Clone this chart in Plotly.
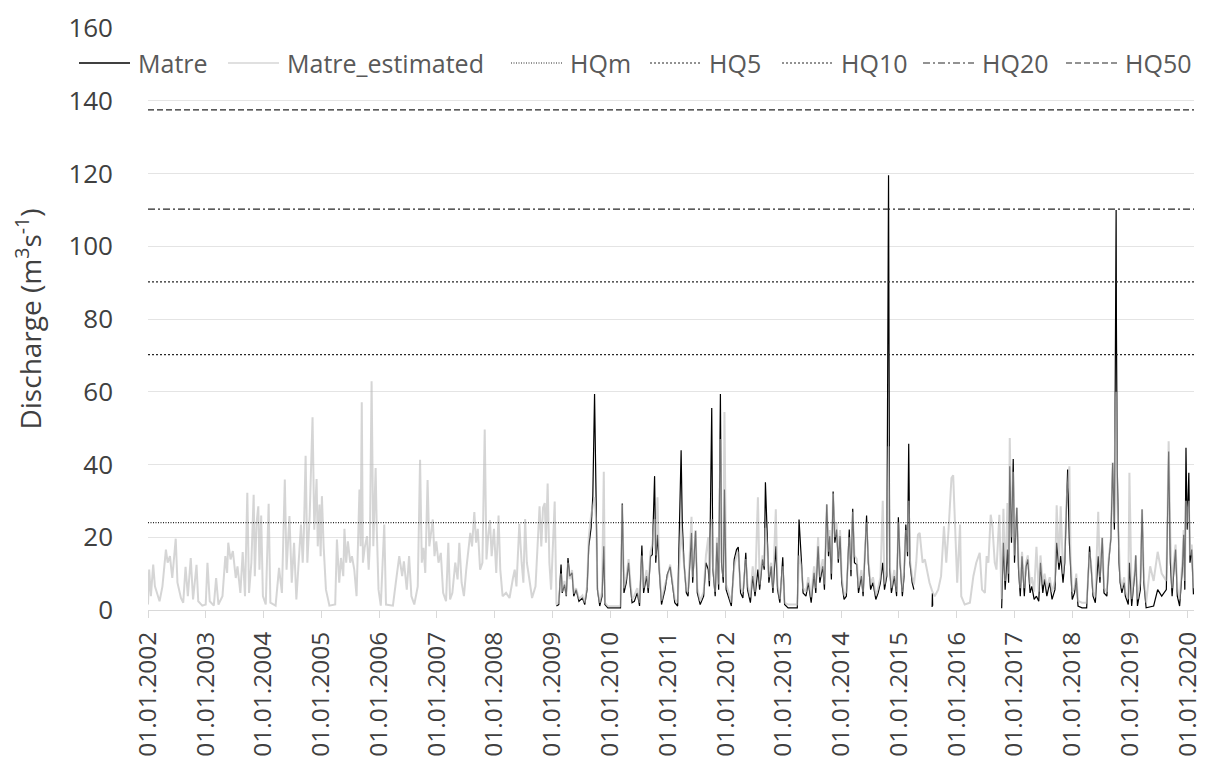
import pandas as pd
import plotly.graph_objects as go

# ---------------- data (decimal years, discharge m3/s) ----------------
est_pre_t = [
    2002.00, 2002.02, 2002.05, 2002.09, 2002.12, 2002.16, 2002.20, 2002.25, 2002.31, 2002.34, 2002.38, 2002.42,
    2002.48, 2002.51, 2002.57, 2002.61, 2002.65, 2002.69, 2002.74, 2002.78, 2002.84, 2002.87, 2002.94,
    2003.00, 2003.03, 2003.07, 2003.14, 2003.18, 2003.22, 2003.29, 2003.34, 2003.37, 2003.39, 2003.43, 2003.47,
    2003.52, 2003.55, 2003.60, 2003.64, 2003.68, 2003.72, 2003.75, 2003.79, 2003.83, 2003.85, 2003.88, 2003.91,
    2003.93, 2003.96, 2003.99,
    2004.04, 2004.09, 2004.12, 2004.21, 2004.27, 2004.32, 2004.37, 2004.40, 2004.45, 2004.49, 2004.53, 2004.57,
    2004.65, 2004.68, 2004.70, 2004.73, 2004.76, 2004.80, 2004.83, 2004.85, 2004.88, 2004.92, 2004.94, 2004.97,
    2004.99,
    2005.01, 2005.04, 2005.08, 2005.14, 2005.24, 2005.27, 2005.31, 2005.34, 2005.38, 2005.40, 2005.43, 2005.46,
    2005.50, 2005.53, 2005.57, 2005.61, 2005.66, 2005.68, 2005.70, 2005.72, 2005.75, 2005.79, 2005.82, 2005.84,
    2005.87, 2005.90, 2005.94, 2005.96, 2005.99,
    2006.03, 2006.09, 2006.12, 2006.24, 2006.29, 2006.35, 2006.40, 2006.43, 2006.48, 2006.52, 2006.56, 2006.61,
    2006.67, 2006.71, 2006.74, 2006.77, 2006.80, 2006.84, 2006.87, 2006.90, 2006.93, 2006.96, 2006.99,
    2007.03, 2007.07, 2007.11, 2007.16, 2007.20, 2007.23, 2007.27, 2007.32, 2007.36, 2007.39, 2007.43, 2007.47,
    2007.51, 2007.54, 2007.58, 2007.61, 2007.65, 2007.68, 2007.71, 2007.75, 2007.79, 2007.83, 2007.86, 2007.89,
    2007.92, 2007.95, 2007.99,
    2008.03, 2008.07, 2008.10, 2008.14, 2008.20, 2008.26, 2008.32, 2008.35, 2008.38, 2008.43, 2008.47, 2008.50,
    2008.53, 2008.56, 2008.60, 2008.65, 2008.71, 2008.75, 2008.78, 2008.81, 2008.84, 2008.87, 2008.89, 2008.92,
    2008.95, 2008.98, 2009.04,
]
est_pre_q = [
    1.5, 11.1, 3.8, 12.5, 6.5, 4.7, 2.4, 6.5, 16.6, 13.0, 14.8, 8.8,
    19.6, 7.5, 3.3, 2.0, 11.9, 3.8, 14.3, 2.9, 12.4, 2.4, 1.2,
    1.5, 13.0, 2.4, 1.2, 8.8, 1.5, 3.8, 14.8, 10.2, 18.5, 13.9, 16.2,
    8.8, 12.0, 4.7, 15.9, 3.8, 32.2, 4.7, 13.0, 31.7, 9.3, 23.9, 28.5,
    11.1, 26.0, 3.8,
    1.5, 29.2, 2.0, 1.2, 11.6, 4.7, 35.9, 11.1, 25.8, 7.5, 18.5, 2.9,
    23.5, 13.0, 21.2, 42.4, 13.0, 25.8, 45.0, 53.0, 22.1, 36.0, 17.5, 29.0,
    14.8,
    31.3, 17.5, 5.6, 1.2, 1.5, 19.4, 7.5, 14.3, 9.3, 22.3, 13.0, 18.9,
    13.0, 14.8, 11.1, 3.8, 33.1, 17.5, 57.1, 13.0, 17.1, 20.3, 11.1, 18.0,
    62.9, 17.5, 39.0, 22.1, 5.6,
    1.2, 23.5, 1.5, 1.2, 7.5, 14.8, 9.3, 13.4, 5.6, 14.8, 3.8, 1.5,
    6.5, 41.3, 13.0, 17.1, 10.2, 35.7, 17.5, 22.1, 24.9, 14.8, 18.9,
    13.0, 15.7, 4.7, 2.4, 18.5, 2.9, 4.7, 13.0, 8.4, 18.5, 7.5, 3.8,
    11.1, 14.8, 21.2, 17.5, 26.9, 18.5, 22.3, 11.1, 13.0, 49.6, 13.9, 20.3,
    24.7, 14.8, 22.3,
    10.2, 26.0, 11.1, 3.8, 4.7, 3.3, 8.8, 11.1, 6.5, 23.7, 13.0, 7.5,
    25.0, 13.0, 8.8, 3.3, 6.5, 18.5, 28.5, 17.5, 28.1, 29.4, 18.5, 34.8,
    13.0, 5.6, 29.8,
]

# observed period 1 (Feb 2009 - Apr 2015): time, observed, estimated
seg1_t = [
    2009.07, 2009.11, 2009.15, 2009.17, 2009.21, 2009.24, 2009.27, 2009.30, 2009.34, 2009.37, 2009.41, 2009.46, 2009.52,
    2009.56, 2009.60, 2009.63, 2009.67, 2009.70, 2009.73, 2009.76, 2009.78, 2009.82, 2009.86, 2009.89, 2009.91, 2009.96,
    2010.18, 2010.21, 2010.24, 2010.28, 2010.32, 2010.35, 2010.38, 2010.42, 2010.47, 2010.51, 2010.55,
    2010.58, 2010.63, 2010.66, 2010.70, 2010.73, 2010.77, 2010.79, 2010.82, 2010.85, 2010.89, 2010.95,
    2010.99, 2011.04, 2011.08, 2011.12, 2011.17, 2011.23, 2011.25, 2011.28, 2011.32, 2011.35, 2011.41, 2011.43, 2011.48, 2011.51,
    2011.56, 2011.62, 2011.66, 2011.70, 2011.72, 2011.76, 2011.78, 2011.82, 2011.85, 2011.88, 2011.91, 2011.93, 2011.96, 2011.98,
    2012.01, 2012.05, 2012.10, 2012.15, 2012.19, 2012.22, 2012.26, 2012.30, 2012.35, 2012.38, 2012.43, 2012.47, 2012.51,
    2012.56, 2012.59, 2012.64, 2012.67, 2012.69, 2012.72, 2012.75, 2012.79, 2012.82, 2012.87, 2012.90, 2012.94, 2012.99,
    2013.02, 2013.08, 2013.24, 2013.27, 2013.31, 2013.34, 2013.39, 2013.43, 2013.48, 2013.53, 2013.56, 2013.60,
    2013.63, 2013.68, 2013.71, 2013.75, 2013.78, 2013.80, 2013.83, 2013.86, 2013.89, 2013.92, 2013.95, 2013.98,
    2014.01, 2014.05, 2014.09, 2014.14, 2014.17, 2014.20, 2014.23, 2014.27, 2014.30, 2014.35, 2014.38, 2014.41, 2014.44, 2014.47,
    2014.51, 2014.55, 2014.60, 2014.64, 2014.68, 2014.72, 2014.75, 2014.79, 2014.82, 2014.84, 2014.87, 2014.92, 2014.96, 2014.99,
    2015.02, 2015.06, 2015.09, 2015.12, 2015.15, 2015.17, 2015.19, 2015.23, 2015.26,
]
seg1_obs = [
    1.1, 1.5, 12.5, 4.7, 7.0, 3.8, 14.3, 9.3, 10.2, 3.8, 5.6, 2.4, 3.3,
    1.5, 5.6, 17.5, 22.6, 31.3, 59.4, 31.3, 5.6, 1.1, 3.8, 17.5, 1.5, 0.6,
    0.6, 29.3, 4.7, 7.5, 13.0, 6.5, 2.0, 2.4, 4.7, 1.1, 17.7,
    4.7, 9.3, 4.7, 14.8, 15.2, 36.8, 13.0, 20.7, 11.1, 1.5, 5.6,
    9.8, 11.9, 7.5, 2.0, 1.1, 43.9, 23.9, 13.0, 4.7, 3.8, 21.2, 7.5, 21.7, 4.7,
    1.5, 3.8, 13.0, 11.1, 6.5, 55.5, 11.1, 3.8, 18.5, 5.6, 59.4, 13.0, 7.5, 33.1,
    5.6, 3.8, 1.1, 13.9, 16.6, 17.3, 4.7, 3.3, 15.7, 5.6, 2.0, 9.3, 3.8,
    11.1, 5.6, 13.9, 11.1, 35.1, 22.1, 7.5, 12.0, 4.7, 17.5, 5.6, 2.0, 14.5,
    1.5, 0.6, 0.6, 24.9, 13.9, 4.7, 3.8, 7.5, 2.0, 10.2, 4.7, 17.5,
    7.5, 12.0, 5.6, 29.0, 14.8, 20.3, 8.4, 32.6, 18.5, 22.1, 13.0, 20.3,
    7.5, 2.9, 3.8, 22.1, 9.3, 27.8, 13.0, 12.5, 4.7, 9.3, 3.8, 14.8, 26.0, 13.0,
    5.6, 7.5, 2.9, 4.7, 7.5, 13.0, 5.6, 9.3, 119.5, 11.1, 4.7, 9.3, 3.8, 25.5,
    13.0, 3.8, 9.3, 23.5, 14.8, 45.7, 13.0, 7.5, 5.6,
]
seg1_est = [
    1.5, 2.0, 10.0, 5.0, 8.0, 4.0, 13.0, 8.5, 11.0, 4.5, 6.0, 3.0, 4.0,
    2.0, 6.5, 20.0, 26.0, 29.0, 31.0, 24.0, 6.0, 2.0, 5.0, 38.0, 2.0, 1.0,
    1.0, 29.0, 6.0, 9.0, 14.0, 8.0, 3.0, 4.0, 6.0, 2.0, 15.0,
    6.0, 11.0, 6.0, 16.0, 18.0, 25.0, 15.0, 31.0, 12.0, 2.5, 7.0,
    9.0, 12.5, 8.0, 3.0, 2.0, 24.0, 18.0, 12.0, 5.5, 5.0, 25.6, 9.0, 22.0, 6.0,
    2.5, 5.0, 15.0, 20.0, 8.0, 25.0, 12.0, 5.0, 20.0, 7.0, 47.0, 14.0, 9.0, 54.4,
    7.0, 5.0, 2.0, 12.0, 15.0, 16.0, 6.0, 5.0, 14.0, 7.0, 3.5, 12.0, 5.0,
    31.0, 7.0, 15.0, 12.0, 22.6, 18.0, 9.0, 13.0, 6.0, 27.7, 7.0, 3.0, 12.0,
    2.0, 1.5, 1.5, 15.0, 12.0, 6.0, 5.0, 9.0, 3.5, 12.0, 6.0, 20.0,
    9.0, 14.0, 7.0, 29.0, 16.0, 22.0, 10.0, 32.0, 20.0, 24.0, 14.0, 22.0,
    9.0, 4.0, 5.0, 20.0, 11.0, 27.0, 15.0, 14.0, 6.0, 11.0, 5.0, 16.0, 24.0, 14.0,
    7.0, 9.0, 4.0, 6.0, 9.0, 30.0, 7.0, 11.0, 45.0, 13.0, 6.0, 11.0, 5.0, 24.0,
    14.0, 5.0, 11.0, 22.0, 16.0, 30.0, 14.0, 9.0, 7.0,
]

# estimated only (gap in observations, 2015-2016)
est_gap_t = [
    2015.30, 2015.33, 2015.36, 2015.41, 2015.45, 2015.49, 2015.53, 2015.58, 2015.62, 2015.68,
    2015.73, 2015.78, 2015.82, 2015.86, 2015.91, 2015.94, 2015.97, 2016.01, 2016.06, 2016.08,
    2016.14, 2016.23, 2016.29, 2016.34, 2016.40, 2016.44, 2016.49, 2016.52, 2016.55, 2016.59,
    2016.62, 2016.66, 2016.69, 2016.74, 2016.77,
]
est_gap_q = [
    13.0, 20.7, 21.2, 13.0, 13.9, 11.1, 7.5, 5.0, 3.8, 5.6,
    9.3, 23.0, 13.0, 22.1, 36.3, 37.0, 22.1, 7.5, 23.5, 3.8,
    1.5, 2.0, 9.3, 13.0, 15.7, 5.6, 4.7, 14.8, 13.0, 26.2,
    23.0, 13.0, 11.1, 26.2, 7.5,
]

# short observed fragment in 2015
obs_frag_t = [2015.575, 2015.58, 2015.585]
obs_frag_q = [0.8, 4.6, 1.2]

# observed period 2 (Oct 2016 - Feb 2020): time, observed, estimated
seg2_t = [
    2016.78, 2016.81, 2016.84, 2016.88, 2016.90, 2016.92, 2016.95, 2016.98,
    2017.00, 2017.04, 2017.07, 2017.10, 2017.13, 2017.17, 2017.20, 2017.23, 2017.27, 2017.30,
    2017.34, 2017.38, 2017.42, 2017.45, 2017.49, 2017.52, 2017.56, 2017.61, 2017.65, 2017.70,
    2017.73, 2017.77, 2017.80, 2017.84, 2017.87, 2017.90, 2017.92, 2017.95, 2017.97,
    2018.00, 2018.04, 2018.07, 2018.10, 2018.17, 2018.25, 2018.30, 2018.33, 2018.36, 2018.40,
    2018.45, 2018.48, 2018.52, 2018.55, 2018.60, 2018.63, 2018.67, 2018.70, 2018.73, 2018.74,
    2018.76, 2018.765, 2018.78, 2018.81, 2018.83, 2018.86, 2018.90, 2018.92, 2018.97, 2018.99,
    2019.03, 2019.09, 2019.10, 2019.13, 2019.18, 2019.21, 2019.24, 2019.28, 2019.35, 2019.41,
    2019.48, 2019.55, 2019.63, 2019.65, 2019.67, 2019.70, 2019.73, 2019.77, 2019.79, 2019.82,
    2019.86, 2019.91, 2019.93, 2019.95, 2019.97, 2019.99, 2020.02, 2020.04, 2020.07, 2020.10,
]
seg2_obs = [
    0.5, 18.5, 5.6, 16.6, 7.5, 39.5, 18.5, 41.5,
    13.0, 28.1, 11.1, 3.8, 14.8, 3.8, 11.9, 13.9, 4.7, 6.5,
    2.9, 3.8, 2.4, 13.0, 4.7, 8.4, 3.8, 7.5, 2.9, 5.6,
    18.5, 11.1, 14.8, 7.5, 13.0, 32.2, 38.6, 18.5, 13.0,
    2.9, 4.7, 8.8, 1.1, 0.6, 0.6, 17.5, 11.1, 3.8, 2.0,
    14.8, 7.5, 19.8, 4.7, 3.8, 13.0, 19.8, 40.4, 22.1, 48.7,
    110.0, 79.0, 38.6, 13.0, 7.5, 4.7, 7.5, 3.8, 1.5, 13.0,
    1.1, 11.1, 15.0, 1.1, 5.6, 27.6, 7.5, 0.6, 0.8, 1.1,
    5.6, 3.8, 5.6, 27.6, 43.6, 13.0, 3.8, 13.0, 16.6, 3.8,
    1.1, 12.0, 20.7, 5.6, 44.6, 22.1, 37.7, 13.0, 16.6, 4.3,
]
seg2_est = [
    3.0, 27.8, 8.0, 29.4, 10.0, 47.3, 20.0, 38.0,
    15.0, 28.0, 13.0, 6.0, 16.0, 6.0, 13.0, 15.0, 7.0, 9.0,
    5.0, 17.4, 5.0, 15.0, 7.0, 10.0, 6.0, 9.0, 5.0, 8.0,
    28.8, 13.0, 28.5, 10.0, 15.0, 30.0, 33.0, 39.5, 15.0,
    5.0, 6.0, 10.0, 2.5, 2.0, 2.0, 16.0, 12.0, 5.0, 3.5,
    27.0, 9.0, 20.0, 6.0, 5.0, 14.0, 19.8, 40.6, 24.0, 45.0,
    60.0, 55.0, 30.0, 14.0, 9.0, 6.0, 9.0, 5.0, 3.0, 37.7,
    3.0, 12.0, 15.0, 3.0, 8.0, 27.6, 9.0, 2.0, 12.0, 8.0,
    16.0, 10.0, 8.0, 26.0, 46.4, 20.0, 6.0, 15.0, 18.0, 6.0,
    3.0, 14.0, 22.0, 8.0, 30.0, 24.0, 30.0, 15.0, 18.0, 6.0,
]

hq_names = ["HQm", "HQ5", "HQ10", "HQ20", "HQ50"]
hq_values = [24.0, 70.2, 90.2, 110.2, 137.5]

tick_years = list(range(2002, 2021))
x_start, x_end = "2002-01-01", "2020-02-10"

# ---------------- styles ----------------
OBS_COLOR = "#000000"
EST_COLOR = "rgba(185,185,185,0.6)"
EST_LEGEND_COLOR = "#d6d6d6"
HQ_COLOR = "#262626"
hq_dashes = ["1px,1.5px", "2px,2px", "2px,2px", "7px,3px,2px,3px", "6px,3px"]


def to_date(y):
    if y is None:
        return None
    yr = int(y)
    return pd.Timestamp(year=yr, month=1, day=1) + pd.Timedelta(days=(y - yr) * 365.25)


obs_t = seg1_t + [None] + obs_frag_t + [None] + seg2_t
obs_q = seg1_obs + [None] + obs_frag_q + [None] + seg2_obs
est_t = est_pre_t + seg1_t + est_gap_t + seg2_t
est_q = est_pre_q + seg1_est + est_gap_q + seg2_est

fig = go.Figure()
fig.add_trace(go.Scatter(
    x=[to_date(v) for v in obs_t], y=obs_q, mode="lines", name="Matre",
    line=dict(color=OBS_COLOR, width=1.2), connectgaps=False, showlegend=False,
))
fig.add_trace(go.Scatter(
    x=[to_date(v) for v in est_t], y=est_q, mode="lines", name="Matre_estimated",
    line=dict(color=EST_COLOR, width=2.0), showlegend=False,
))
for name, val, dash in zip(hq_names, hq_values, hq_dashes):
    fig.add_trace(go.Scatter(
        x=[x_start, x_end], y=[val, val], mode="lines", name=name,
        line=dict(color=HQ_COLOR, width=1.2, dash=dash), showlegend=False,
    ))

# ---------------- page geometry ----------------
# the page body has an 8 px default margin, so the figure is made 8 px smaller
# and every screen position below is given in window pixels minus that offset
OFF = 8
W, H = 1207 - OFF, 764 - OFF
PLOT_L, PLOT_R, PLOT_T, PLOT_B = 148 - OFF, 1194 - OFF, 28 - OFF, 610 - OFF

# legend row drawn as one line, like the original
legend_names = ["Matre", "Matre_estimated"] + hq_names
legend_colors = [OBS_COLOR, EST_LEGEND_COLOR] + [HQ_COLOR] * len(hq_names)
legend_dashes = ["solid", "solid"] + hq_dashes
legend_sample_x = [79, 228, 511, 650, 782, 923, 1066]   # window px, left end of each sample line
SAMPLE_LEN, TEXT_GAP, LEGEND_Y = 51, 6, 63


def px_x(p):
    return (p - OFF - PLOT_L) / (PLOT_R - PLOT_L)


def px_y(p):
    return (PLOT_B - (p - OFF)) / (PLOT_B - PLOT_T)


for name, col, dash, sx in zip(legend_names, legend_colors, legend_dashes, legend_sample_x):
    fig.add_shape(type="line", xref="paper", yref="paper",
                  x0=px_x(sx), x1=px_x(sx + SAMPLE_LEN), y0=px_y(LEGEND_Y), y1=px_y(LEGEND_Y),
                  line=dict(color=col, width=1.5 if dash == "solid" else 1.2, dash=dash))
    fig.add_annotation(text=name, xref="paper", yref="paper",
                       x=px_x(sx + SAMPLE_LEN + TEXT_GAP), y=px_y(LEGEND_Y),
                       xanchor="left", yanchor="middle", showarrow=False,
                       font=dict(size=25, color="#595959"))

font_family = "Open Sans, Liberation Sans, sans-serif"
fig.update_layout(
    width=W, height=H,
    margin=dict(l=PLOT_L, r=W - PLOT_R, t=PLOT_T, b=H - PLOT_B, autoexpand=False),
    paper_bgcolor="white", plot_bgcolor="white",
    font=dict(family=font_family, color="#404040"),
    showlegend=False,
    xaxis=dict(
        type="date", range=[x_start, x_end],
        tickvals=[f"{y}-01-01" for y in tick_years],
        ticktext=[f"01.01.{y}" for y in tick_years],
        tickangle=-90, tickfont=dict(size=24.5, color="#404040"),
        ticks="outside", ticklen=7, tickcolor="#d9d9d9", tickwidth=1,
        ticklabelstandoff=4,
        showline=True, linecolor="#d9d9d9", linewidth=1,
        showgrid=False, zeroline=False, automargin=False,
    ),
    yaxis=dict(
        range=[0, 160], dtick=20, tick0=0,
        tickfont=dict(size=26, color="#404040"),
        showgrid=True, gridcolor="#e4e4e4", gridwidth=1,
        zeroline=False, showline=False, ticks="",
        ticklabelstandoff=34, automargin=False,
        title=dict(text="Discharge (m<sup>3</sup>s<sup>-1</sup>)",
                   font=dict(size=28, color="#404040"), standoff=23),
    ),
)

fig.write_html("out.html")
